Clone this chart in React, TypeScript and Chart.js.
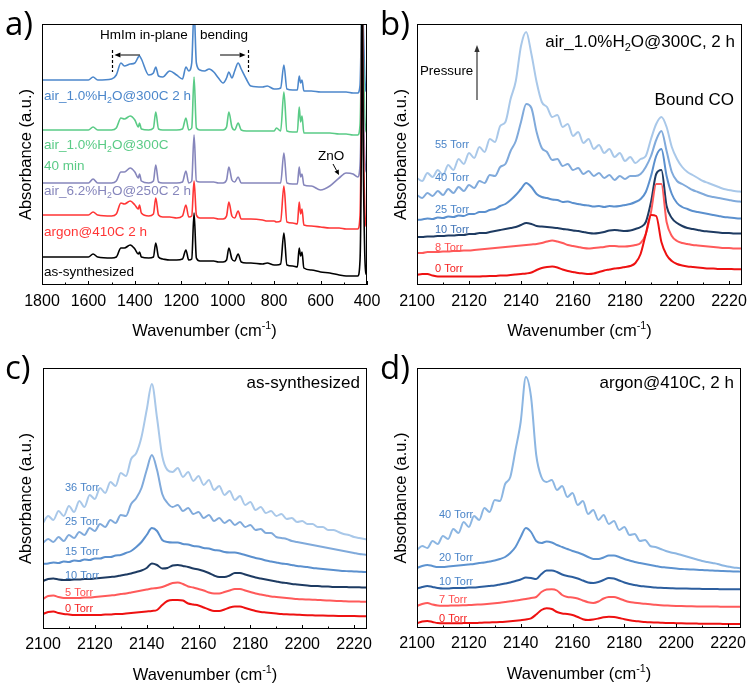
import React, { useEffect, useRef } from "react";
import { Chart, registerables } from "chart.js";

Chart.register(...registerables);

const FF = '"Liberation Sans", Arial, Helvetica, sans-serif';

// ---------------- Panel a data (mid-IR spectra) ----------------
const waveA = [
  1800, 1700, 1600, 1580, 1560, 1500, 1480, 1460, 1445, 1420,
  1400, 1385, 1380, 1372, 1340, 1320, 1310, 1298, 1280, 1250,
  1220, 1195, 1180, 1168, 1155, 1145, 1135, 1120, 1100, 1080,
  1060, 1040, 1020, 1005, 995, 982, 970, 955, 942, 920,
  900, 850, 830, 800, 790, 772, 758, 745, 720, 700,
  692, 686, 680, 672, 640, 600, 560, 520, 490, 460,
  440, 430, 425, 421, 416, 410, 405, 400,
];
const asSynthesized = [
  0.28, 0.28, 0.28, 0.31, 0.28, 0.27, 0.28, 0.37, 0.37, 0.40,
  0.36, 0.31, 0.33, 0.28, 0.27, 0.28, 0.42, 0.28, 0.26, 0.25,
  0.25, 0.26, 0.35, 0.25, 0.26, 0.72, 0.27, 0.24, 0.24, 0.24,
  0.24, 0.23, 0.23, 0.25, 0.37, 0.26, 0.24, 0.31, 0.23, 0.22,
  0.22, 0.21, 0.22, 0.20, 0.20, 0.21, 0.52, 0.20, 0.19, 0.18,
  0.37, 0.29, 0.33, 0.17, 0.15, 0.13, 0.12, 0.10, 0.09, 0.09,
  0.09, 0.25, 1.2, 3.2, 1.3, 0.35, 0.12, 0.10,
];
const argon410 = [
  0.70, 0.70, 0.70, 0.73, 0.70, 0.69, 0.71, 0.82, 0.81, 0.84,
  0.80, 0.76, 0.80, 0.72, 0.69, 0.71, 0.87, 0.70, 0.68, 0.68,
  0.67, 0.69, 0.80, 0.68, 0.69, 1.04, 0.70, 0.67, 0.67, 0.67,
  0.67, 0.66, 0.66, 0.69, 0.83, 0.69, 0.67, 0.74, 0.66, 0.66,
  0.66, 0.65, 0.64, 0.64, 0.63, 0.64, 0.99, 0.63, 0.62, 0.61,
  0.83, 0.71, 0.76, 0.60, 0.59, 0.58, 0.57, 0.57, 0.56, 0.56,
  0.56, 0.70, 1.6, 3.2, 1.6, 0.8, 0.6, 0.58,
];
const air62_250 = [
  1.02, 1.02, 1.02, 1.06, 1.02, 1.02, 1.04, 1.13, 1.13, 1.17,
  1.13, 1.07, 1.11, 1.04, 1.02, 1.04, 1.20, 1.03, 1.02, 1.02,
  1.02, 1.03, 1.14, 1.02, 1.04, 1.50, 1.04, 1.03, 1.03, 1.03,
  1.03, 1.02, 1.02, 1.05, 1.18, 1.05, 1.03, 1.08, 1.02, 1.02,
  1.02, 1.02, 1.02, 1.02, 1.02, 1.02, 1.32, 1.02, 1.01, 1.01,
  1.18, 1.08, 1.11, 1.00, 0.99, 0.95, 0.99, 1.07, 1.12, 1.11,
  1.08, 1.2, 1.8, 3.2, 1.9, 1.3, 1.15, 1.12,
];
const air10_300_40min = [
  1.55, 1.55, 1.55, 1.58, 1.55, 1.55, 1.57, 1.67, 1.66, 1.69,
  1.65, 1.58, 1.62, 1.56, 1.55, 1.57, 1.73, 1.56, 1.55, 1.55,
  1.55, 1.56, 1.67, 1.55, 1.57, 2.08, 1.57, 1.55, 1.55, 1.55,
  1.55, 1.55, 1.55, 1.58, 1.73, 1.58, 1.55, 1.62, 1.55, 1.54,
  1.54, 1.54, 1.54, 1.54, 1.57, 1.54, 1.93, 1.54, 1.53, 1.53,
  1.78, 1.63, 1.69, 1.52, 1.52, 1.52, 1.52, 1.51, 1.51, 1.50,
  1.50, 1.6, 2.2, 3.2, 2.3, 1.7, 1.55, 1.52,
];
const air10_300_2h = [
  2.05, 2.05, 2.05, 2.08, 2.05, 2.06, 2.10, 2.22, 2.19, 2.21,
  2.22, 2.28, 2.29, 2.26, 2.10, 2.12, 2.18, 2.09, 2.08, 2.14,
  2.10, 2.06, 2.18, 2.14, 2.22, 2.75, 2.22, 2.15, 2.14, 2.16,
  2.13, 2.07, 2.02, 2.07, 2.13, 2.07, 2.14, 2.22, 2.16, 2.06,
  1.99, 1.98, 1.99, 1.96, 1.96, 1.97, 2.20, 1.96, 1.95, 1.95,
  2.09, 2.02, 2.05, 1.94, 1.94, 1.93, 1.93, 1.93, 1.93, 1.92,
  1.92, 2.0, 2.5, 3.2, 2.6, 2.1, 1.95, 1.93,
];
const ticksA = [1800, 1600, 1400, 1200, 1000, 800, 600, 400];
const minorA = [1700, 1500, 1300, 1100, 900, 700, 500];

// ---------------- CO region grid (panels b, c, d) ----------------
const waveCO = [
  2100, 2102, 2104, 2106, 2108, 2110, 2112, 2114,
  2116, 2118, 2120, 2122, 2124, 2126, 2128, 2130,
  2132, 2134, 2136, 2138, 2140, 2142, 2144, 2146,
  2148, 2150, 2152, 2154, 2156, 2158, 2160, 2162,
  2164, 2166, 2168, 2170, 2172, 2174, 2176, 2178,
  2180, 2182, 2184, 2186, 2188, 2190, 2192, 2194,
  2196, 2198, 2200, 2202, 2204, 2206, 2208, 2210,
  2212, 2214, 2216, 2218, 2220, 2222, 2224, 2225,
];
const ticksCO = [2100, 2120, 2140, 2160, 2180, 2200, 2220];
const minorCO = [2110, 2130, 2150, 2170, 2190, 2210];

// panel b: air_1.0%H2O@300C, 2 h
const b55 = [
  1.06, 1.03, 1.11, 1.07, 1.14, 1.09, 1.19, 1.14,
  1.25, 1.20, 1.31, 1.26, 1.37, 1.32, 1.45, 1.42,
  1.58, 1.62, 1.85, 2.03, 2.38, 2.52, 2.30, 2.02,
  1.82, 1.77, 1.67, 1.69, 1.57, 1.60, 1.48, 1.52,
  1.41, 1.45, 1.35, 1.39, 1.31, 1.35, 1.27, 1.31,
  1.23, 1.27, 1.21, 1.25, 1.28, 1.45, 1.60, 1.67,
  1.57, 1.37, 1.25, 1.17, 1.12, 1.09, 1.06, 1.03,
  1.01, 0.99, 0.97, 0.95, 0.94, 0.93, 0.925, 0.923,
];
const b40 = [
  0.89, 0.86, 0.91, 0.88, 0.93, 0.89, 0.95, 0.91,
  0.97, 0.93, 0.99, 0.96, 1.03, 1.01, 1.09, 1.08,
  1.17, 1.20, 1.33, 1.43, 1.62, 1.80, 1.76, 1.52,
  1.36, 1.32, 1.24, 1.25, 1.18, 1.20, 1.14, 1.16,
  1.10, 1.13, 1.08, 1.11, 1.06, 1.09, 1.04, 1.08,
  1.05, 1.08, 1.08, 1.10, 1.17, 1.28, 1.44, 1.53,
  1.33, 1.12, 1.03, 1.00, 0.97, 0.94, 0.92, 0.90,
  0.88, 0.87, 0.86, 0.85, 0.84, 0.83, 0.825, 0.823,
];
const b25 = [
  0.64, 0.645, 0.655, 0.65, 0.665, 0.66, 0.675, 0.67,
  0.685, 0.68, 0.70, 0.70, 0.72, 0.72, 0.74, 0.75,
  0.78, 0.80, 0.84, 0.89, 0.95, 1.01, 0.97, 0.90,
  0.87, 0.86, 0.845, 0.84, 0.82, 0.825, 0.81, 0.80,
  0.79, 0.785, 0.775, 0.78, 0.77, 0.78, 0.775, 0.78,
  0.79, 0.80, 0.82, 0.85, 0.92, 1.08, 1.28, 1.35,
  1.08, 0.90, 0.81, 0.77, 0.75, 0.73, 0.72, 0.71,
  0.70, 0.69, 0.68, 0.67, 0.665, 0.66, 0.655, 0.655,
];
const b10 = [
  0.47, 0.47, 0.475, 0.475, 0.48, 0.48, 0.485, 0.485,
  0.49, 0.49, 0.50, 0.50, 0.51, 0.51, 0.52, 0.53,
  0.54, 0.55, 0.56, 0.57, 0.59, 0.61, 0.60, 0.58,
  0.575, 0.57, 0.565, 0.56, 0.55, 0.545, 0.535, 0.53,
  0.52, 0.51, 0.505, 0.51, 0.52, 0.535, 0.54, 0.535,
  0.53, 0.535, 0.55, 0.57, 0.62, 0.82, 1.10, 1.14,
  0.78, 0.66, 0.61, 0.58, 0.56, 0.55, 0.54, 0.53,
  0.525, 0.52, 0.515, 0.51, 0.51, 0.505, 0.505, 0.505,
];
const b8 = [
  0.31, 0.31, 0.32, 0.32, 0.32, 0.325, 0.325, 0.33,
  0.33, 0.335, 0.335, 0.34, 0.345, 0.35, 0.355, 0.36,
  0.365, 0.37, 0.375, 0.38, 0.385, 0.39, 0.395, 0.40,
  0.41, 0.425, 0.435, 0.425, 0.41, 0.39, 0.38, 0.37,
  0.36, 0.355, 0.36, 0.365, 0.37, 0.38, 0.38, 0.375,
  0.375, 0.38, 0.39, 0.41, 0.50, 0.72, 1.00, 1.00,
  0.62, 0.48, 0.43, 0.41, 0.40, 0.39, 0.385, 0.38,
  0.375, 0.37, 0.365, 0.36, 0.36, 0.355, 0.355, 0.355,
];
const b0 = [
  0.09, 0.10, 0.10, 0.085, 0.075, 0.075, 0.075, 0.075,
  0.075, 0.075, 0.075, 0.075, 0.075, 0.078, 0.08, 0.08,
  0.085, 0.085, 0.09, 0.095, 0.10, 0.105, 0.115, 0.14,
  0.16, 0.17, 0.175, 0.165, 0.145, 0.13, 0.12, 0.11,
  0.105, 0.10, 0.105, 0.12, 0.135, 0.145, 0.155, 0.16,
  0.17, 0.18, 0.21, 0.30, 0.50, 0.69, 0.68, 0.42,
  0.29, 0.23, 0.20, 0.185, 0.175, 0.17, 0.165, 0.16,
  0.155, 0.155, 0.15, 0.15, 0.15, 0.148, 0.148, 0.148,
];

// panel c: as-synthesized
const c36 = [
  1.05, 1.12, 1.08, 1.17, 1.12, 1.22, 1.16, 1.27,
  1.21, 1.33, 1.29, 1.40, 1.35, 1.46, 1.42, 1.55,
  1.52, 1.69, 1.75, 1.91, 2.18, 2.44, 2.10, 1.72,
  1.58, 1.56, 1.60, 1.51, 1.56, 1.47, 1.52, 1.43,
  1.48, 1.38, 1.42, 1.33, 1.37, 1.28, 1.32, 1.23,
  1.26, 1.18, 1.21, 1.15, 1.17, 1.12, 1.14, 1.09,
  1.10, 1.06, 1.07, 1.04, 1.04, 1.01, 1.01, 0.98,
  0.98, 0.96, 0.94, 0.93, 0.91, 0.90, 0.89, 0.885,
];
const c25 = [
  0.85, 0.89, 0.86, 0.91, 0.87, 0.93, 0.90, 0.96,
  0.93, 1.00, 0.97, 1.04, 1.01, 1.08, 1.05, 1.13,
  1.12, 1.24, 1.30, 1.40, 1.58, 1.73, 1.58, 1.34,
  1.25, 1.21, 1.23, 1.17, 1.20, 1.14, 1.16, 1.10,
  1.13, 1.07, 1.10, 1.05, 1.08, 1.03, 1.06, 1.01,
  1.03, 0.98, 0.99, 0.95, 0.95, 0.91, 0.90, 0.89,
  0.87, 0.86, 0.85, 0.84, 0.83, 0.82, 0.81, 0.80,
  0.79, 0.78, 0.77, 0.76, 0.75, 0.74, 0.735, 0.73,
];
const c15 = [
  0.64, 0.645, 0.655, 0.65, 0.665, 0.66, 0.675, 0.67,
  0.685, 0.68, 0.695, 0.695, 0.71, 0.71, 0.725, 0.73,
  0.75, 0.77, 0.81, 0.86, 0.93, 1.00, 0.97, 0.88,
  0.86, 0.855, 0.855, 0.84, 0.835, 0.82, 0.815, 0.80,
  0.795, 0.78, 0.775, 0.76, 0.755, 0.755, 0.745, 0.73,
  0.715, 0.70, 0.69, 0.675, 0.665, 0.655, 0.645, 0.64,
  0.63, 0.62, 0.615, 0.61, 0.60, 0.595, 0.59, 0.585,
  0.58, 0.575, 0.57, 0.568, 0.565, 0.563, 0.56, 0.56,
];
const c10 = [
  0.47, 0.49, 0.495, 0.485, 0.48, 0.48, 0.485, 0.485,
  0.49, 0.49, 0.495, 0.50, 0.505, 0.51, 0.515, 0.525,
  0.535, 0.545, 0.56, 0.575, 0.60, 0.645, 0.63, 0.595,
  0.60, 0.625, 0.63, 0.62, 0.61, 0.595, 0.585, 0.57,
  0.55, 0.525, 0.51, 0.51, 0.525, 0.55, 0.55, 0.535,
  0.52, 0.505, 0.495, 0.485, 0.475, 0.465, 0.455, 0.45,
  0.44, 0.435, 0.43, 0.425, 0.42, 0.42, 0.415, 0.415,
  0.41, 0.41, 0.41, 0.408, 0.407, 0.407, 0.405, 0.405,
];
const c5 = [
  0.29, 0.32, 0.325, 0.31, 0.30, 0.30, 0.30, 0.30,
  0.305, 0.305, 0.31, 0.315, 0.32, 0.325, 0.33, 0.34,
  0.345, 0.355, 0.365, 0.375, 0.385, 0.395, 0.40, 0.41,
  0.43, 0.45, 0.455, 0.44, 0.415, 0.405, 0.39, 0.375,
  0.355, 0.345, 0.345, 0.36, 0.375, 0.39, 0.39, 0.375,
  0.36, 0.345, 0.335, 0.325, 0.315, 0.31, 0.305, 0.30,
  0.295, 0.29, 0.287, 0.285, 0.283, 0.28, 0.278, 0.275,
  0.272, 0.27, 0.268, 0.266, 0.265, 0.264, 0.263, 0.263,
];
const c0 = [
  0.14, 0.16, 0.165, 0.15, 0.14, 0.135, 0.13, 0.13,
  0.13, 0.13, 0.13, 0.13, 0.135, 0.135, 0.14, 0.14,
  0.145, 0.15, 0.155, 0.16, 0.165, 0.17, 0.18, 0.23,
  0.27, 0.28, 0.28, 0.275, 0.245, 0.235, 0.225, 0.205,
  0.185, 0.17, 0.17, 0.185, 0.205, 0.215, 0.215, 0.20,
  0.185, 0.17, 0.16, 0.155, 0.15, 0.145, 0.14, 0.137,
  0.135, 0.133, 0.13, 0.128, 0.127, 0.125, 0.124, 0.123,
  0.122, 0.121, 0.12, 0.12, 0.119, 0.118, 0.117, 0.117,
];

// panel d: argon@410C, 2 h
const d40 = [
  0.77, 0.81, 0.79, 0.86, 0.83, 0.91, 0.88, 0.98,
  0.94, 1.05, 1.00, 1.11, 1.07, 1.19, 1.15, 1.27,
  1.26, 1.43, 1.50, 1.77, 2.05, 2.50, 2.30, 1.72,
  1.50, 1.45, 1.47, 1.37, 1.41, 1.30, 1.34, 1.22,
  1.26, 1.13, 1.17, 1.07, 1.12, 1.03, 1.06, 0.97,
  1.00, 0.92, 0.93, 0.86, 0.87, 0.81, 0.80, 0.78,
  0.76, 0.745, 0.735, 0.72, 0.705, 0.69, 0.675, 0.66,
  0.65, 0.64, 0.63, 0.615, 0.605, 0.595, 0.59, 0.587,
];
const d20 = [
  0.59, 0.61, 0.62, 0.61, 0.60, 0.60, 0.605, 0.61,
  0.615, 0.62, 0.625, 0.63, 0.64, 0.645, 0.655, 0.665,
  0.68, 0.70, 0.74, 0.80, 0.90, 0.99, 0.95, 0.86,
  0.84, 0.855, 0.845, 0.82, 0.80, 0.78, 0.76, 0.745,
  0.725, 0.70, 0.68, 0.68, 0.695, 0.715, 0.715, 0.70,
  0.68, 0.665, 0.65, 0.64, 0.63, 0.62, 0.61, 0.60,
  0.595, 0.59, 0.585, 0.58, 0.578, 0.575, 0.572, 0.57,
  0.567, 0.565, 0.562, 0.56, 0.558, 0.556, 0.555, 0.553,
];
const d10 = [
  0.385, 0.40, 0.41, 0.40, 0.39, 0.385, 0.385, 0.39,
  0.39, 0.39, 0.395, 0.395, 0.40, 0.405, 0.41, 0.415,
  0.425, 0.435, 0.445, 0.46, 0.475, 0.495, 0.49, 0.48,
  0.53, 0.565, 0.565, 0.55, 0.525, 0.51, 0.50, 0.485,
  0.465, 0.445, 0.44, 0.45, 0.47, 0.49, 0.485, 0.465,
  0.445, 0.43, 0.42, 0.41, 0.405, 0.40, 0.395, 0.392,
  0.39, 0.388, 0.386, 0.385, 0.384, 0.383, 0.382, 0.381,
  0.38, 0.38, 0.379, 0.378, 0.378, 0.377, 0.377, 0.377,
];
const d7 = [
  0.21, 0.23, 0.24, 0.225, 0.215, 0.213, 0.213, 0.215,
  0.215, 0.217, 0.22, 0.222, 0.225, 0.228, 0.232, 0.237,
  0.243, 0.25, 0.257, 0.265, 0.272, 0.28, 0.29, 0.30,
  0.35, 0.375, 0.378, 0.365, 0.32, 0.30, 0.295, 0.285,
  0.265, 0.248, 0.24, 0.255, 0.285, 0.30, 0.30, 0.285,
  0.265, 0.25, 0.243, 0.237, 0.232, 0.227, 0.222, 0.218,
  0.215, 0.212, 0.21, 0.209, 0.208, 0.207, 0.206, 0.205,
  0.205, 0.204, 0.204, 0.203, 0.203, 0.203, 0.203, 0.203,
];
const d0 = [
  0.037, 0.055, 0.06, 0.05, 0.04, 0.037, 0.037, 0.038,
  0.038, 0.039, 0.04, 0.04, 0.042, 0.044, 0.046, 0.048,
  0.05, 0.053, 0.057, 0.062, 0.068, 0.075, 0.087, 0.125,
  0.17, 0.187, 0.18, 0.15, 0.135, 0.13, 0.12, 0.10,
  0.078, 0.07, 0.075, 0.085, 0.097, 0.103, 0.10, 0.09,
  0.078, 0.068, 0.06, 0.055, 0.05, 0.047, 0.045, 0.043,
  0.041, 0.04, 0.038, 0.037, 0.036, 0.035, 0.034, 0.033,
  0.033, 0.032, 0.032, 0.031, 0.031, 0.03, 0.03, 0.03,
];

// ---------------- colours ----------------
const BLUE_A = "#4c87cb";
const GREEN_A = "#5acb86";
const PURPLE_A = "#8686bc";
const RED_A = "#ff3535";
const LBL_BLUE = "#4a84c8";
const LBL_RED = "#ff4d4d";
const LBL_RED0 = "#f52020";

// ---------------- rich text helpers ----------------
function parseRich(s) {
  const out = [];
  const re = /~([^~]*)~|\^([^\^]*)\^/g;
  let last = 0;
  let m;
  while ((m = re.exec(s))) {
    if (m.index > last) out.push({ t: s.slice(last, m.index), k: 0 });
    if (m[1] !== undefined) out.push({ t: m[1], k: 1 });
    else out.push({ t: m[2], k: 2 });
    last = re.lastIndex;
  }
  if (last < s.length) out.push({ t: s.slice(last), k: 0 });
  return out;
}

function drawRich(ctx, s, x, y, size, color, align = "left") {
  const parts = parseRich(s);
  const fs = (p) => (p.k ? size * 0.65 : size);
  let total = 0;
  for (const p of parts) {
    ctx.font = `${fs(p)}px ${FF}`;
    total += ctx.measureText(p.t).width;
  }
  let cx = align === "left" ? x : align === "right" ? x - total : x - total / 2;
  ctx.fillStyle = color;
  ctx.textAlign = "left";
  ctx.textBaseline = "alphabetic";
  for (const p of parts) {
    ctx.font = `${fs(p)}px ${FF}`;
    const dy = p.k === 1 ? size * 0.25 : p.k === 2 ? -size * 0.42 : 0;
    ctx.fillText(p.t, cx, y + dy);
    cx += ctx.measureText(p.t).width;
  }
}

function arrow(ctx, x1, y1, x2, y2, color, head = 6, half = 2.6, lw = 1) {
  ctx.save();
  ctx.strokeStyle = color;
  ctx.fillStyle = color;
  ctx.lineWidth = lw;
  const a = Math.atan2(y2 - y1, x2 - x1);
  const bx = x2 - head * Math.cos(a);
  const by = y2 - head * Math.sin(a);
  ctx.beginPath();
  ctx.moveTo(x1, y1);
  ctx.lineTo(bx, by);
  ctx.stroke();
  ctx.beginPath();
  ctx.moveTo(x2, y2);
  ctx.lineTo(bx + half * Math.sin(a), by - half * Math.cos(a));
  ctx.lineTo(bx - half * Math.sin(a), by + half * Math.cos(a));
  ctx.closePath();
  ctx.fill();
  ctx.restore();
}

// ---------------- panel definitions ----------------
const panels = [
  {
    key: "a",
    left: 0, top: 0, w: 390, h: 340,
    plot: { l: 42, r: 367, t: 24, b: 285 },
    xMin: 400, xMax: 1800, reverse: true, yMin: 0, yMax: 2.61,
    ticks: ticksA, minor: ticksA.length ? minorA : [],
    tickPad: 7,
    letter: "a)", letterY: 35,
    waves: waveA,
    lw: 1.6,
    series: [
      { v: asSynthesized, c: "#000000" },
      { v: argon410, c: RED_A },
      { v: air62_250, c: PURPLE_A },
      { v: air10_300_40min, c: GREEN_A },
      { v: air10_300_2h, c: BLUE_A },
    ],
    texts: [
      { s: "as-synthesized", x: 44, y: 276, size: 13.5, c: "#000" },
      { s: "argon@410C 2 h", x: 44, y: 236, size: 13.5, c: RED_A },
      { s: "air_6.2%H~2~O@250C 2 h", x: 44, y: 195, size: 13.5, c: PURPLE_A },
      { s: "40 min", x: 44, y: 170, size: 13.5, c: GREEN_A },
      { s: "air_1.0%H~2~O@300C", x: 44, y: 149, size: 13.5, c: GREEN_A },
      { s: "air_1.0%H~2~O@300C 2 h", x: 44, y: 100, size: 13.5, c: BLUE_A },
      { s: "HmIm in-plane", x: 100, y: 39, size: 13.5, c: "#000" },
      { s: "bending", x: 200, y: 39, size: 13.5, c: "#000" },
      { s: "ZnO", x: 318, y: 160, size: 13.5, c: "#000" },
    ],
    extra: (chart, ctx) => {
      const xs = chart.scales.x;
      ctx.save();
      ctx.strokeStyle = "#000";
      ctx.lineWidth = 1.2;
      ctx.setLineDash([3, 2]);
      for (const w of [1500, 911]) {
        const px = Math.round(xs.getPixelForValue(w)) + 0.5;
        ctx.beginPath();
        ctx.moveTo(px, 50);
        ctx.lineTo(px, 72);
        ctx.stroke();
      }
      ctx.restore();
      arrow(ctx, xs.getPixelForValue(1378), 55, xs.getPixelForValue(1488), 55, "#000");
      arrow(ctx, xs.getPixelForValue(1033), 55, xs.getPixelForValue(923), 55, "#000");
      arrow(ctx, 333, 164, 339, 175, "#000", 5, 2.4);
    },
  },
  {
    key: "b",
    left: 375, top: 0, w: 375, h: 340,
    plot: { l: 42, r: 367, t: 24, b: 285 },
    xMin: 2100, xMax: 2225, reverse: false, yMin: -0.01, yMax: 2.6,
    ticks: ticksCO, minor: minorCO,
    tickPad: 7,
    letter: "b)", letterY: 35,
    waves: waveCO,
    lw: 2,
    series: [
      { v: b0, c: "#ee1111" },
      { v: b8, c: "#ff5a5a" },
      { v: b10, c: "#1e3b62" },
      { v: b25, c: "#5b90ce" },
      { v: b40, c: "#80aadb" },
      { v: b55, c: "#a9c8e9" },
    ],
    texts: [
      { s: "air_1.0%H~2~O@300C, 2 h", x: 360, y: 47, size: 17, c: "#000", align: "right" },
      { s: "Bound CO", x: 359, y: 105, size: 17, c: "#000", align: "right" },
      { s: "Pressure", x: 45, y: 75, size: 13.3, c: "#000" },
      { s: "55 Torr", x: 60, y: 148, size: 11, c: LBL_BLUE },
      { s: "40 Torr", x: 60, y: 181, size: 11, c: LBL_BLUE },
      { s: "25 Torr", x: 60, y: 213, size: 11, c: LBL_BLUE },
      { s: "10 Torr", x: 60, y: 233, size: 11, c: "#3f73b6" },
      { s: "8 Torr", x: 60, y: 251, size: 11, c: LBL_RED },
      { s: "0 Torr", x: 60, y: 272, size: 11, c: LBL_RED0 },
    ],
    extra: (chart, ctx) => {
      arrow(ctx, 102, 100, 102, 45, "#333", 7, 2.6, 1.2);
    },
  },
  {
    key: "c",
    left: 0, top: 340, w: 375, h: 350,
    plot: { l: 43, r: 367, t: 28, b: 289 },
    xMin: 2100, xMax: 2225, reverse: false, yMin: -0.01, yMax: 2.6,
    ticks: ticksCO, minor: minorCO,
    tickPad: 6,
    letter: "c)", letterY: 39,
    waves: waveCO,
    lw: 2,
    series: [
      { v: c0, c: "#ee1111" },
      { v: c5, c: "#ff5a5a" },
      { v: c10, c: "#1e3b62" },
      { v: c15, c: "#5b90ce" },
      { v: c25, c: "#80aadb" },
      { v: c36, c: "#a9c8e9" },
    ],
    texts: [
      { s: "as-synthesized", x: 360, y: 48, size: 17, c: "#000", align: "right" },
      { s: "36 Torr", x: 65, y: 151, size: 11, c: LBL_BLUE },
      { s: "25 Torr", x: 65, y: 185, size: 11, c: LBL_BLUE },
      { s: "15 Torr", x: 65, y: 215, size: 11, c: LBL_BLUE },
      { s: "10 Torr", x: 65, y: 239, size: 11, c: LBL_BLUE },
      { s: "5 Torr", x: 65, y: 256, size: 11, c: LBL_RED },
      { s: "0 Torr", x: 65, y: 272, size: 11, c: LBL_RED0 },
    ],
  },
  {
    key: "d",
    left: 375, top: 340, w: 375, h: 350,
    plot: { l: 42, r: 366, t: 28, b: 288 },
    xMin: 2100, xMax: 2225, reverse: false, yMin: -0.01, yMax: 2.59,
    ticks: ticksCO, minor: minorCO,
    tickPad: 6,
    letter: "d)", letterY: 39,
    waves: waveCO,
    lw: 2,
    series: [
      { v: d0, c: "#ee1111" },
      { v: d7, c: "#ff5a5a" },
      { v: d10, c: "#2c5e9e" },
      { v: d20, c: "#5d93d0" },
      { v: d40, c: "#8cb6e2" },
    ],
    texts: [
      { s: "argon@410C, 2 h", x: 359, y: 48, size: 17, c: "#000", align: "right" },
      { s: "40 Torr", x: 64, y: 178, size: 11, c: LBL_BLUE },
      { s: "20 Torr", x: 64, y: 221, size: 11, c: LBL_BLUE },
      { s: "10 Torr", x: 64, y: 245, size: 11, c: LBL_BLUE },
      { s: "7 Torr", x: 64, y: 263, size: 11, c: LBL_RED },
      { s: "0 Torr", x: 64, y: 282, size: 11, c: LBL_RED0 },
    ],
  },
];

function makeOverlay(def) {
  return {
    id: "overlay_" + def.key,
    afterDraw(chart) {
      const ctx = chart.ctx;
      const { left, right, top, bottom } = chart.chartArea;
      const xs = chart.scales.x;
      ctx.save();
      // frame
      ctx.strokeStyle = "#000";
      ctx.lineWidth = 1;
      ctx.strokeRect(left + 0.5, top + 0.5, right - left - 1, bottom - top - 1);
      // inward ticks on bottom axis
      ctx.beginPath();
      for (const v of def.ticks) {
        const px = Math.round(xs.getPixelForValue(v)) + 0.5;
        ctx.moveTo(px, bottom);
        ctx.lineTo(px, bottom - 4);
      }
      for (const v of def.minor) {
        const px = Math.round(xs.getPixelForValue(v)) + 0.5;
        ctx.moveTo(px, bottom);
        ctx.lineTo(px, bottom - 2.5);
      }
      ctx.stroke();
      // axis titles
      drawRich(ctx, "Wavenumber (cm^-1^)", (left + right) / 2, bottom + 51, 16.5, "#000", "center");
      ctx.save();
      ctx.translate(31, (top + bottom) / 2);
      ctx.rotate(-Math.PI / 2);
      drawRich(ctx, "Absorbance (a.u.)", 0, 0, 16.5, "#000", "center");
      ctx.restore();
      // panel letter
      ctx.fillStyle = "#000";
      ctx.font = `33px "Open Sans", "Noto Sans", sans-serif`;
      ctx.textAlign = "left";
      ctx.textBaseline = "alphabetic";
      ctx.fillText(def.letter, 5, def.letterY);
      // annotations
      for (const t of def.texts) {
        drawRich(ctx, t.s, t.x, t.y, t.size, t.c, t.align || "left");
      }
      if (def.extra) def.extra(chart, ctx);
      ctx.restore();
    },
  };
}

function buildConfig(def) {
  const xAxisHeight = def.h - def.plot.b;
  return {
    type: "line",
    data: {
      datasets: def.series.map((s) => ({
        data: def.waves.map((w, i) => ({ x: w, y: s.v[i] })),
        borderColor: s.c,
        borderWidth: def.lw,
        pointRadius: 0,
        fill: false,
        tension: 0,
        cubicInterpolationMode: "monotone",
      })),
    },
    options: {
      animation: false,
      responsive: false,
      devicePixelRatio: 1,
      events: [],
      layout: {
        padding: { left: def.plot.l, right: def.w - def.plot.r, top: def.plot.t, bottom: 0 },
      },
      plugins: { legend: { display: false }, tooltip: { enabled: false }, title: { display: false } },
      scales: {
        x: {
          type: "linear",
          min: def.xMin,
          max: def.xMax,
          reverse: def.reverse,
          grid: { display: false, drawTicks: false },
          border: { display: false },
          ticks: {
            color: "#000",
            font: { family: FF, size: 16 },
            padding: def.tickPad,
            maxRotation: 0,
            minRotation: 0,
            autoSkip: false,
            callback: (v) => String(v),
          },
          afterBuildTicks: (scale) => {
            scale.ticks = def.ticks.map((v) => ({ value: v }));
          },
          afterFit: (scale) => {
            scale.height = xAxisHeight;
            scale.paddingLeft = 0;
            scale.paddingRight = 0;
          },
        },
        y: {
          type: "linear",
          display: false,
          min: def.yMin,
          max: def.yMax,
        },
      },
    },
    plugins: [makeOverlay(def)],
  };
}

function Panel({ def }) {
  const ref = useRef(null);
  useEffect(() => {
    const chart = new Chart(ref.current, buildConfig(def));
    return () => chart.destroy();
  }, []);
  return (
    <canvas
      ref={ref}
      width={def.w}
      height={def.h}
      style={{ position: "absolute", left: def.left, top: def.top, width: def.w, height: def.h }}
    />
  );
}

export default function App() {
  return (
    <div style={{ position: "absolute", left: 0, top: 0, width: 750, height: 690, background: "#fff" }}>
      {panels.map((p) => (
        <Panel key={p.key} def={p} />
      ))}
    </div>
  );
}
